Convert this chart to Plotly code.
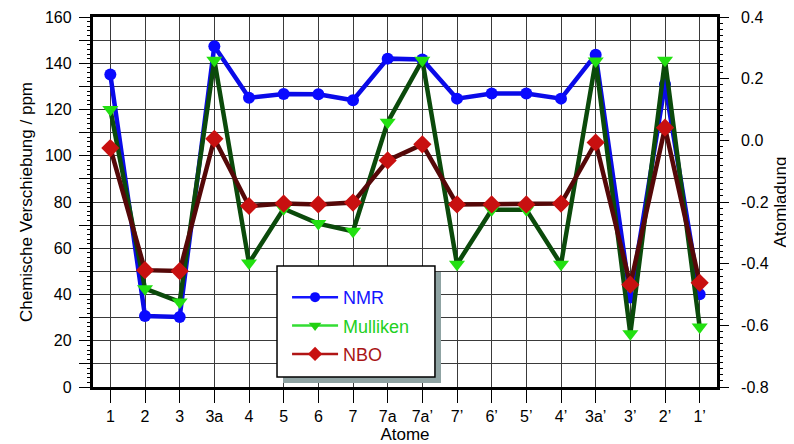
import plotly.graph_objects as go

atoms = ["1", "2", "3", "3a", "4", "5", "6", "7", "7a", "7a’",
         "7’", "6’", "5’", "4’", "3a’", "3’", "2’", "1’"]
nmr = [135.1, 30.7, 30.3, 147.4, 125.1, 126.7, 126.6, 124.0, 142.0, 141.6,
       124.7, 126.9, 126.9, 124.7, 143.7, 38.7, 130.9, 40.1]
mulliken = [0.100, -0.481, -0.524, 0.260, -0.398, -0.222, -0.270, -0.295, 0.059, 0.260,
            -0.402, -0.225, -0.225, -0.402, 0.257, -0.627, 0.260, -0.605]
nbo = [-0.025, -0.421, -0.424, 0.005, -0.213, -0.205, -0.208, -0.202, -0.065, -0.013,
       -0.208, -0.208, -0.208, -0.205, -0.007, -0.468, 0.041, -0.462]

left_ticks = list(range(0, 170, 10))
left_labels = [str(v) if v % 20 == 0 else "" for v in left_ticks]
right_labels = ["-0.8", "-0.6", "-0.4", "-0.2", "0.0", "0.2", "0.4"]

NB = "\u00a0"
left_alias = {str(v): (t + NB if t else "") for v, t in zip(left_ticks, left_labels)}
right_alias = {t.replace("-", "\u2212"): NB * 2 + t for t in right_labels}

FONT = "Liberation Sans, Arial, sans-serif"

fig = go.Figure()

# data traces
fig.add_trace(go.Scatter(x=atoms, y=nmr, mode="lines+markers", showlegend=False,
                         line=dict(color="#0a0ae8", width=4.5),
                         marker=dict(symbol="circle", size=12, color="#0a0aff")))
fig.add_trace(go.Scatter(x=atoms, y=mulliken, yaxis="y2", mode="lines+markers", showlegend=False,
                         line=dict(color="#0b4a0b", width=4.5),
                         marker=dict(symbol="triangle-down", size=14, color="#22e011")))
fig.add_trace(go.Scatter(x=atoms, y=nbo, yaxis="y2", mode="lines+markers", showlegend=False,
                         line=dict(color="#550808", width=4.5),
                         marker=dict(symbol="diamond", size=14, color="#c81010")))

# legend entries (empty traces, also anchoring the extra tick axes)
fig.add_trace(go.Scatter(x=[None], y=[None], yaxis="y3", mode="lines+markers", legendgroup="a",
                         name="<span style='color:#1515ff'>NMR</span>",
                         line=dict(color="#1515ff", width=2.5),
                         marker=dict(symbol="circle", size=10, color="#0a0aff")))
fig.add_trace(go.Scatter(x=[None], y=[None], yaxis="y4", mode="lines+markers", legendgroup="b",
                         name="<span style='color:#22d022'>Mulliken</span>",
                         line=dict(color="#33dd33", width=2.5),
                         marker=dict(symbol="triangle-down", size=11, color="#22d011")))
fig.add_trace(go.Scatter(x=[None], y=[None], yaxis="y5", mode="lines+markers", legendgroup="c",
                         name="<span style='color:#a81515'>NBO</span>",
                         line=dict(color="#b01515", width=2.5),
                         marker=dict(symbol="diamond", size=11, color="#c81010")))

tick_common = dict(anchor="x", overlaying="y", automargin=False, showgrid=False,
                   zeroline=False, showline=False, showticklabels=False,
                   tickmode="linear", ticks="outside",
                   tickcolor="black", tickwidth=1)

fig.update_layout(
    width=786, height=436,
    margin=dict(l=85, r=77, t=9, b=57),
    paper_bgcolor="white", plot_bgcolor="white",
    font=dict(family=FONT, size=16, color="black"),
    xaxis=dict(
        type="category", range=[-0.5, 17.5], automargin=False,
        showgrid=True, gridcolor="#3a3a3a", gridwidth=1.3,
        showline=True, linecolor="black", linewidth=2.5, mirror=True,
        ticks="outside", ticklen=13, tickcolor="black", tickwidth=1,
        tickfont=dict(size=16), zeroline=False,
        title=dict(text="Atome", font=dict(size=17), standoff=7),
    ),
    yaxis=dict(
        range=[0, 160], tickmode="linear", tick0=0, dtick=10, labelalias=left_alias,
        automargin=False,
        showgrid=True, gridcolor="#3a3a3a", gridwidth=1.3,
        showline=True, linecolor="black", linewidth=2.5, mirror=True,
        ticks="outside", ticklen=11, tickcolor="black", tickwidth=1,
        zeroline=False, tickfont=dict(size=16),
        title=dict(text="Chemische Verschiebung / ppm", font=dict(size=17), standoff=8),
    ),
    yaxis2=dict(
        overlaying="y", side="right", range=[-0.8, 0.4], automargin=False,
        tickmode="linear", tick0=0, dtick=0.2, tickformat=".1f", labelalias=right_alias,
        showgrid=False, zeroline=False, showline=False,
        ticks="outside", ticklen=11, tickcolor="black", tickwidth=1,
        tickfont=dict(size=16),
        title=dict(text="Atomladung", font=dict(size=17), standoff=6),
    ),
    yaxis3=dict(side="left", range=[0, 160], tick0=0, dtick=2, ticklen=5, **tick_common),
    yaxis4=dict(side="right", range=[-0.8, 0.4], tick0=0, dtick=0.02, ticklen=5, **tick_common),
    yaxis5=dict(side="left", range=[0, 160], tick0=0, dtick=10, ticklen=11, **tick_common),
    legend=dict(
        x=0.311, y=0.292, xanchor="left", yanchor="top",
        bgcolor="rgba(0,0,0,0)", borderwidth=0,
        font=dict(size=18), itemwidth=46,
        traceorder="grouped", tracegroupgap=2,
    ),
    shapes=[
        dict(type="rect", xref="paper", yref="paper", x0=0.3045, x1=0.5577, y0=0.0108, y1=0.311,
             fillcolor="#8fa3a3", line=dict(width=0), layer="above"),
        dict(type="rect", xref="paper", yref="paper", x0=0.2949, x1=0.548, y0=0.027, y1=0.327,
             fillcolor="white", line=dict(color="black", width=1.5), layer="above"),
    ],
)

fig.write_html("out.html")
